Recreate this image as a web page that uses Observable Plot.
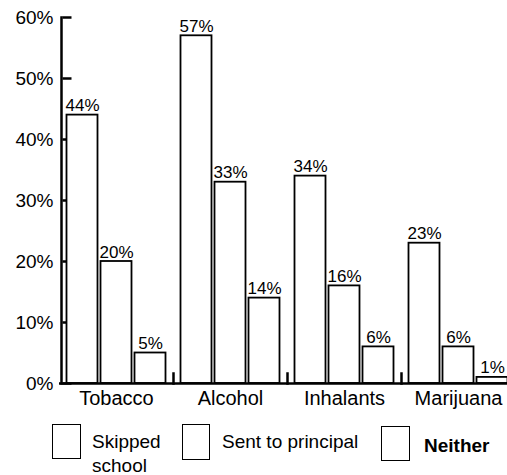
<!DOCTYPE html>
<html>
<head>
<meta charset="utf-8">
<script src="https://cdn.jsdelivr.net/npm/d3@7"></script>
<script src="https://cdn.jsdelivr.net/npm/@observablehq/plot@0.6"></script>
<style>
  html, body { margin: 0; padding: 0; background: white; overflow: hidden; }
  #wrap { position: relative; width: 507px; height: 475px; font-family: "Liberation Sans", Arial, sans-serif; color: black; }
  .sq { position: absolute; border: 1.6px solid black; box-sizing: border-box; background: white; }
  .lt { position: absolute; font-size: 19px; line-height: 24px; white-space: nowrap; }
</style>
</head>
<body>
<div id="wrap"></div>
<script>
const categories = ["Tobacco", "Alcohol", "Inhalants", "Marijuana"];
const series = ["Skipped school", "Sent to principal", "Neither"];
const skipped = [44, 57, 34, 23];
const sent = [20, 33, 16, 6];
const neither = [5, 14, 6, 1];
const yTicks = [0, 10, 20, 30, 40, 50, 60];

const values = [skipped, sent, neither];
const rows = categories.flatMap((c, i) =>
  series.map((s, j) => ({category: c, series: s, value: values[j][i]}))
);

const chart = Plot.plot({
  width: 507,
  height: 418,
  marginTop: 17,
  marginBottom: 35,
  marginLeft: 58.5,
  marginRight: 0,
  style: {fontFamily: "'Liberation Sans', Arial, sans-serif", background: "white", color: "black", overflow: "hidden"},
  fx: {domain: categories, range: [58.5, 514.5], padding: 0, label: null},
  x: {domain: series, paddingInner: 3 / 34, paddingOuter: 15 / 68, axis: null},
  y: {domain: [0, 60], label: null},
  marks: [
    Plot.axisY(yTicks, {tickSize: 9, dx: 12.5, fill: "none", stroke: "black", strokeWidth: 2.5, label: null}),
    Plot.axisY(yTicks, {tickSize: 0, tickPadding: 6, tickFormat: d => d + "%", fontSize: 19, fill: "black", label: null}),
    Plot.frame({anchor: "left", facetAnchor: "left", dx: 2, stroke: "black", strokeWidth: 2.5}),
    Plot.barY(rows, {fx: "category", x: "series", y: "value", fill: "white", stroke: "black", strokeWidth: 1.8}),
    Plot.ruleY([0], {stroke: "black", strokeWidth: 2.5}),
    Plot.frame({anchor: "right", insetTop: 356, stroke: "black", strokeWidth: 2.5}),
    Plot.text(rows, {fx: "category", x: "series", y: "value", text: d => d.value + "%", lineAnchor: "bottom", dy: -4, fontSize: 17, fill: "black"}),
    Plot.axisFx({anchor: "bottom", tickSize: 0, tickPadding: 7, fontSize: 20, fill: "black", label: null})
  ]
});

const wrap = document.getElementById("wrap");
wrap.appendChild(chart);

// Legend (HTML, below the SVG)
const legend = [
  {label: "Skipped<br>school", sq: [52, 424, 29, 35], tx: [92, 430], bold: false},
  {label: "Sent to principal", sq: [182, 424, 28, 36], tx: [222, 430], bold: false},
  {label: "Neither", sq: [381, 426, 29, 35], tx: [424, 434], bold: true}
];
for (const item of legend) {
  const sq = document.createElement("div");
  sq.className = "sq";
  sq.style.left = item.sq[0] + "px";
  sq.style.top = item.sq[1] + "px";
  sq.style.width = item.sq[2] + "px";
  sq.style.height = item.sq[3] + "px";
  wrap.appendChild(sq);
  const t = document.createElement("div");
  t.className = "lt";
  t.style.left = item.tx[0] + "px";
  t.style.top = item.tx[1] + "px";
  if (item.bold) t.style.fontWeight = "bold";
  t.innerHTML = item.label;
  wrap.appendChild(t);
}
</script>
</body>
</html>
